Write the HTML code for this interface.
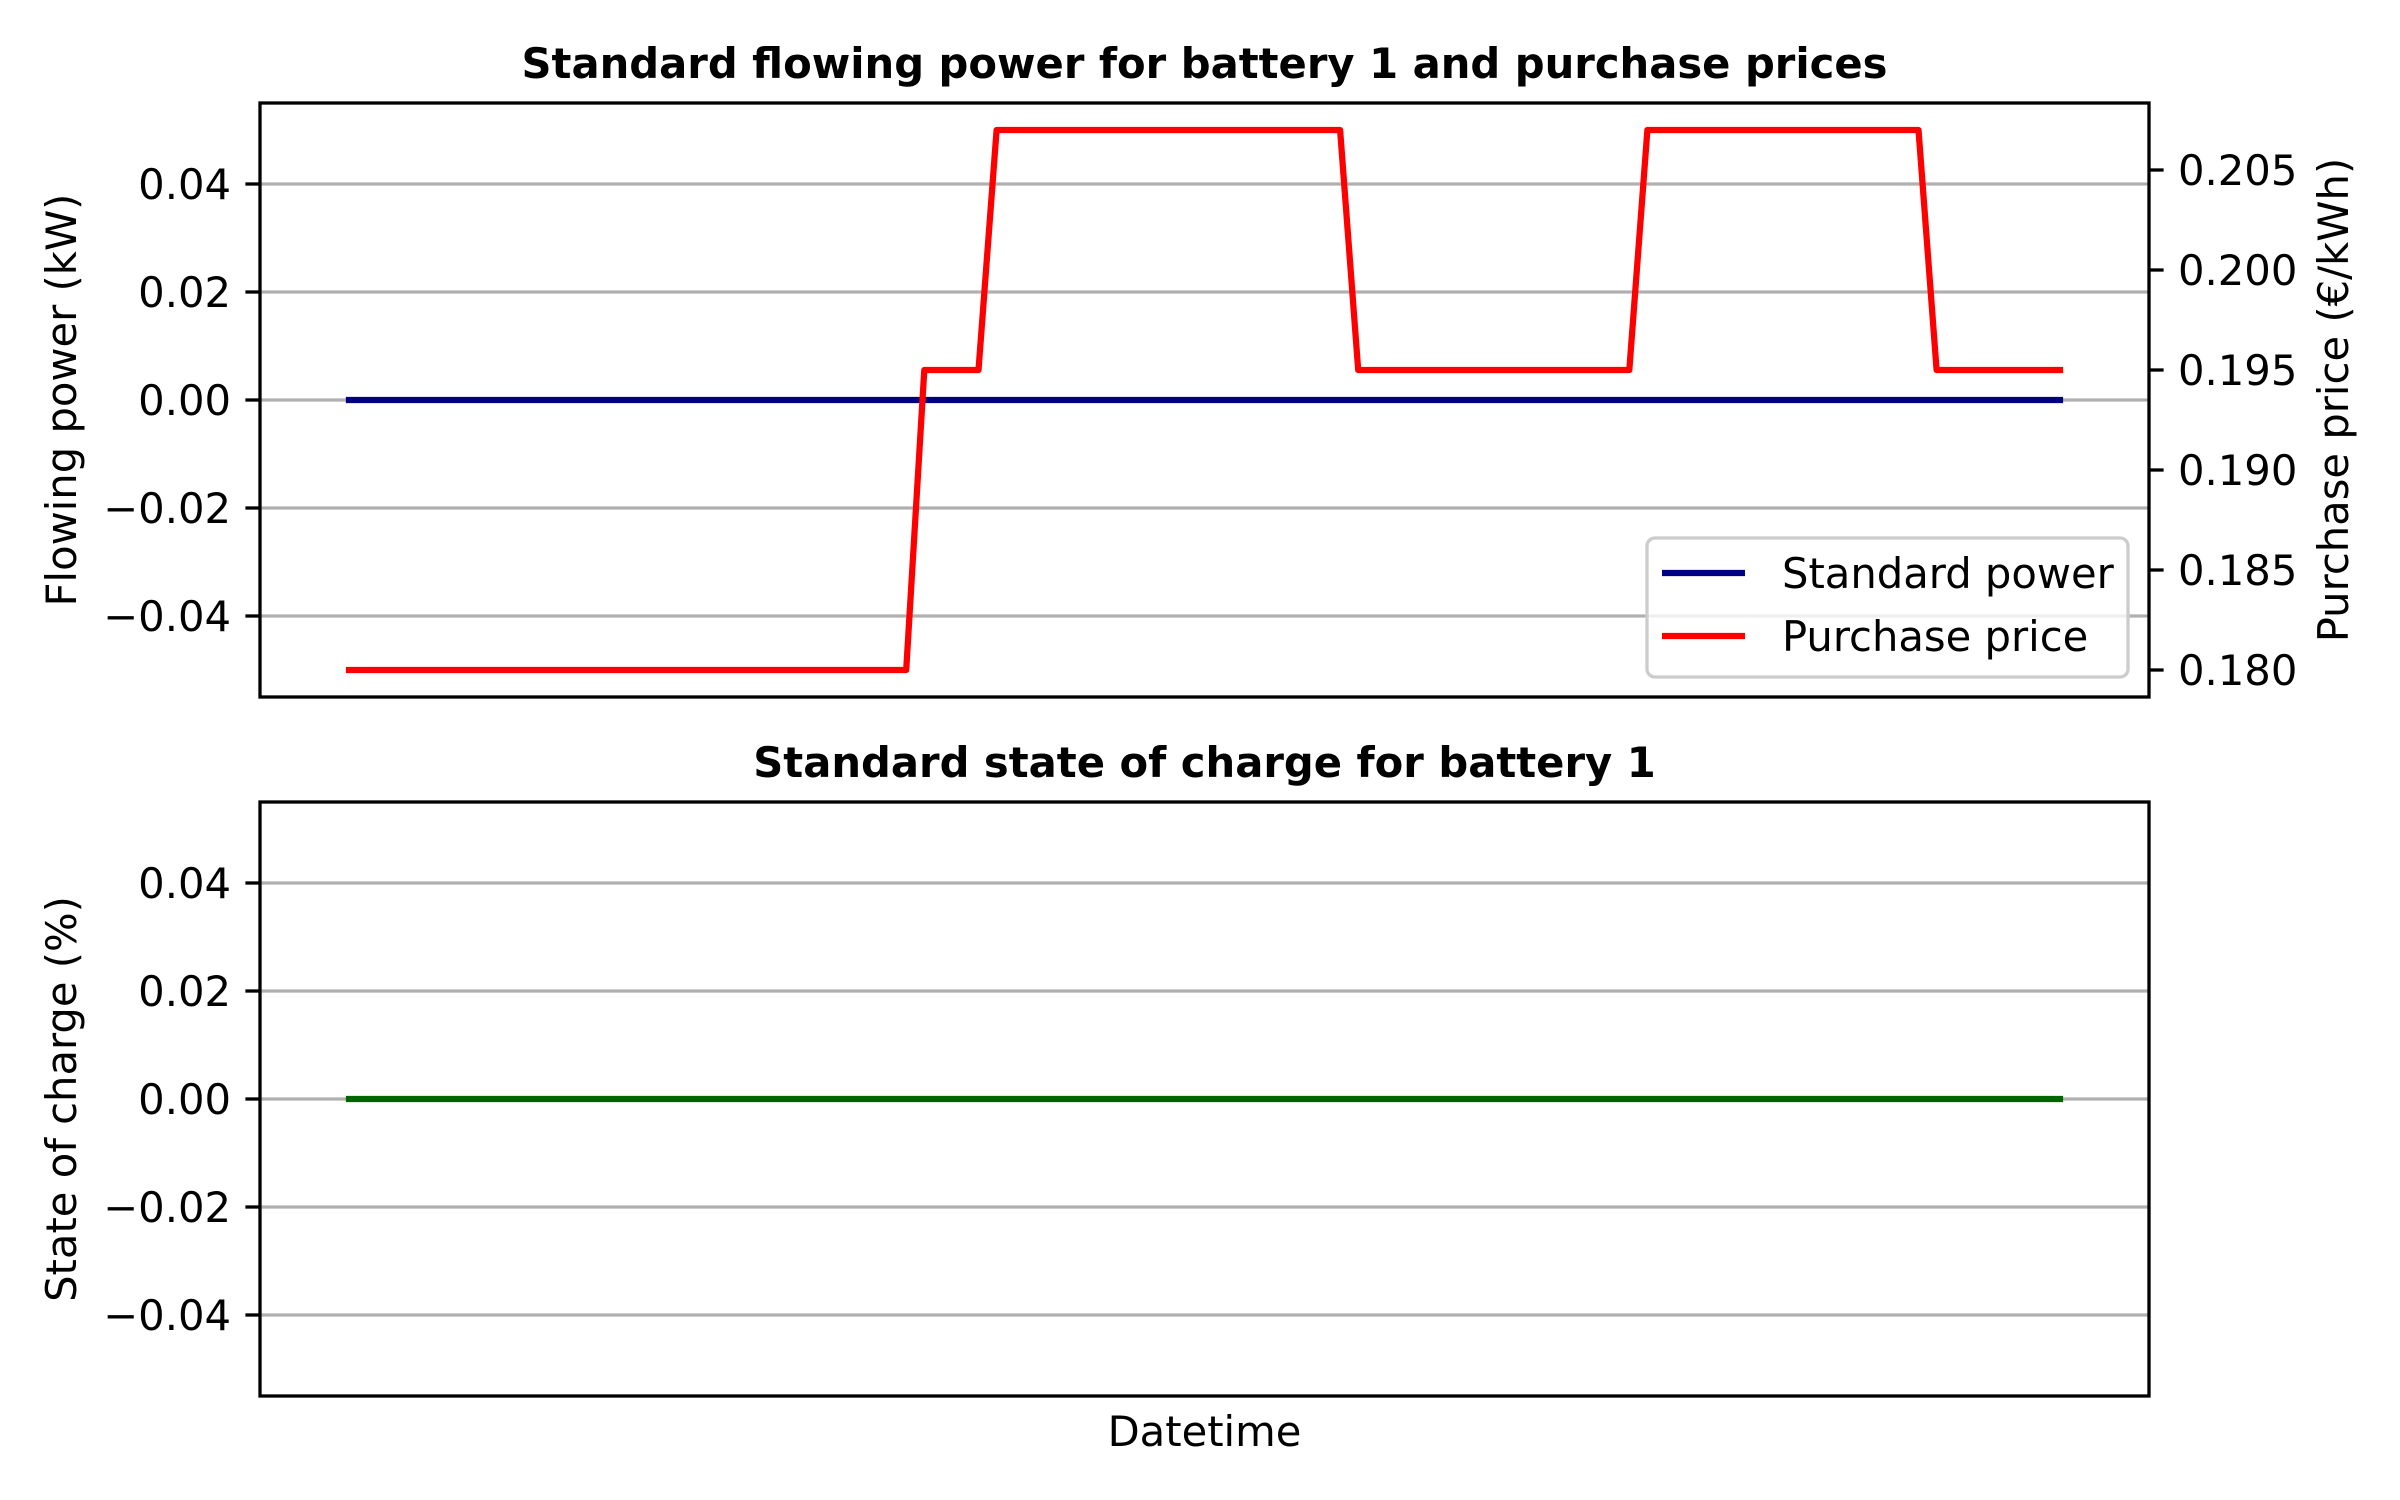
<!DOCTYPE html>
<html><head><meta charset="utf-8"><style>
html,body{margin:0;padding:0;background:#fff;}
svg{display:block;font-family:"DejaVu Sans","Liberation Sans",sans-serif;}
</style></head><body>
<svg id="fig" width="2400" height="1500" viewBox="0 0 2400 1500" xmlns="http://www.w3.org/2000/svg">
<rect width="2400" height="1500" fill="#fff"/>
<g id="top"></g>
<g id="bot"></g>
</svg>
<script>
const powerValues = new Array(96).fill(0);
const socValues = new Array(96).fill(0);
const priceValues = [
0.180,0.180,0.180,0.180,0.180,0.180,0.180,0.180,0.180,0.180,0.180,0.180,0.180,0.180,0.180,0.180,
0.180,0.180,0.180,0.180,0.180,0.180,0.180,0.180,0.180,0.180,0.180,0.180,0.180,0.180,0.180,0.180,
0.195,0.195,0.195,0.195,
0.207,0.207,0.207,0.207,0.207,0.207,0.207,0.207,0.207,0.207,0.207,0.207,0.207,0.207,0.207,0.207,0.207,0.207,0.207,0.207,
0.195,0.195,0.195,0.195,0.195,0.195,0.195,0.195,0.195,0.195,0.195,0.195,0.195,0.195,0.195,0.195,
0.207,0.207,0.207,0.207,0.207,0.207,0.207,0.207,0.207,0.207,0.207,0.207,0.207,0.207,0.207,0.207,
0.195,0.195,0.195,0.195,0.195,0.195,0.195,0.195];
const leftTicks = [-0.04,-0.02,0.00,0.02,0.04];
const leftTickLabels = ["\u22120.04","\u22120.02","0.00","0.02","0.04"];
const rightTicks = [0.180,0.185,0.190,0.195,0.200,0.205];
const rightTickLabels = ["0.180","0.185","0.190","0.195","0.200","0.205"];

const NS="http://www.w3.org/2000/svg";
const L=260,R=2149,H=594;
function mk(parent,tag,attrs,text){const e=document.createElementNS(NS,tag);for(const k in attrs)e.setAttribute(k,attrs[k]);if(text!==undefined)e.textContent=text;parent.appendChild(e);return e;}
const n=powerValues.length;
const xPad=(n-1)*0.05;
function xScale(i){return L+(i+xPad)/((n-1)+2*xPad)*(R-L);}
function yLeft(top){return v=>top+H/2-v/0.055*(H/2);}
const pmin=Math.min(...priceValues),pmax=Math.max(...priceValues),pm=(pmax-pmin)*0.05;
function yRight(top){return v=>top+H-(v-(pmin-pm))/((pmax+pm)-(pmin-pm))*H;}

function drawAxes(g,top,title,ylabel,series,color,withRight){
  const ys=yLeft(top);
  leftTicks.forEach((t,i)=>{
    const y=ys(t);
    const gl=mk(g,'line',{x1:L,x2:R,y1:y,y2:y,stroke:'#b0b0b0','stroke-width':3.3});
    
    
    const tk=mk(g,'line',{x1:L-14.6,x2:L,y1:y,y2:y,stroke:'#000','stroke-width':3.3});
    
    
    const tl=mk(g,'text',{x:L-29,y:y+15,'text-anchor':'end','font-size':41.7,fill:'#000'},leftTickLabels[i]);
    
    
  });
  const pts=series.map((v,i)=>xScale(i).toFixed(1)+','+ys(v).toFixed(1)).join(' ');
  const pl=mk(g,'polyline',{points:pts,fill:'none',stroke:color,'stroke-width':6.25,'stroke-linejoin':'round'});
  
  
  if(withRight){
    const yr=yRight(top);
    const pp=priceValues.map((v,i)=>xScale(i).toFixed(1)+','+yr(v).toFixed(1)).join(' ');
    const rl=mk(g,'polyline',{points:pp,fill:'none',stroke:'#ff0000','stroke-width':6.25,'stroke-linejoin':'round'});
    
    
    rightTicks.forEach((t,i)=>{
      const y=yr(t);
      const tk=mk(g,'line',{x1:R,x2:R+14.6,y1:y,y2:y,stroke:'#000','stroke-width':3.3});
      
      
      const tl=mk(g,'text',{x:R+29,y:y+15,'text-anchor':'start','font-size':41.7,fill:'#000'},rightTickLabels[i]);
      
      
    });
    const ry=top+H/2;
    const rlab=mk(g,'text',{x:2348,y:ry,'text-anchor':'middle','font-size':41.7,transform:'rotate(-90 2348 '+ry+')'},'Purchase price (\u20ac/kWh)');
    
    
    // legend
    const lg=mk(g,'g',{});
    
    
    mk(lg,'rect',{x:1647,y:538,width:481,height:139,rx:8,fill:'#fff','fill-opacity':0.8,stroke:'#cccccc','stroke-width':3.3});
    const e1=mk(lg,'g',{});
    
    
    mk(e1,'line',{x1:1662,x2:1745,y1:573,y2:573,stroke:'#000080','stroke-width':6.25});
    mk(e1,'text',{x:1782,y:588,'font-size':41.7},'Standard power');
    const e2=mk(lg,'g',{});
    
    
    mk(e2,'line',{x1:1662,x2:1745,y1:636,y2:636,stroke:'#ff0000','stroke-width':6.25});
    mk(e2,'text',{x:1782,y:651,'font-size':41.7},'Purchase price');
  }
  const fr=mk(g,'rect',{x:L,y:top,width:R-L,height:H,fill:'none',stroke:'#000','stroke-width':3.3});
  
  
  const tt=mk(g,'text',{x:(L+R)/2,y:top-25,'text-anchor':'middle','font-size':41.7,'font-weight':'bold'},title);
  
  
  const cy=top+H/2;
  const yl=mk(g,'text',{x:76,y:cy,'text-anchor':'middle','font-size':41.7,transform:'rotate(-90 76 '+cy+')'},ylabel);
  
  
}
drawAxes(document.getElementById('top'),103,'Standard flowing power for battery 1 and purchase prices','Flowing power (kW)',powerValues,'#000080',true);
drawAxes(document.getElementById('bot'),802,'Standard state of charge for battery 1','State of charge (%)',socValues,'#006400',false);
const xl=mk(document.getElementById('bot'),'text',{x:(L+R)/2,y:1446,'text-anchor':'middle','font-size':41.7},'Datetime');


</script>
</body></html>
